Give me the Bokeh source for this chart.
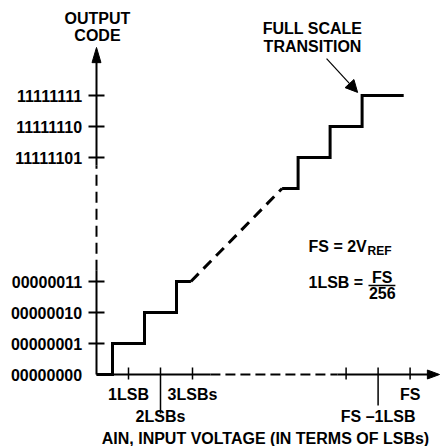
from bokeh.plotting import figure
from bokeh.models import Range1d, Arrow, NormalHead
from bokeh.core.properties import value
from bokeh.embed import file_html
from bokeh.resources import INLINE

# ---------------- data ----------------
FS_LSB = 256                # full scale in LSBs (8-bit converter)
FS_POS = 9.8                # display position of FS on the broken x axis
HIGH_CODE_SHIFT = 246       # display offset for codes above the y-axis break

# y axis codes and labels
y_codes = [0, 1, 2, 3, 253, 254, 255]
y_labels = ["00000000", "00000001", "00000010", "00000011",
            "11111101", "11111110", "11111111"]

# x axis ticks (in LSBs)
x_ticks_small = [1, 3, FS_LSB - 2, FS_LSB]
x_ticks_long = [2, FS_LSB - 1]
x_tick_labels = ["1LSB", "2LSBs", "3LSBs", "FS \u20131LSB", "FS"]
x_tick_label_pos = [1, 2, 3, FS_LSB - 1, FS_LSB]
x_tick_label_row = [0, 1, 0, 1, 0]

# ideal transfer function: low end steps and high end steps
low_x = [0, 0.5, 0.5, 1.5, 1.5, 2.5, 2.5, 2.95]
low_code = [0, 0, 1, 1, 2, 2, 3, 3]
high_x = [FS_LSB - 4, FS_LSB - 3.5, FS_LSB - 3.5, FS_LSB - 2.5, FS_LSB - 2.5,
          FS_LSB - 1.5, FS_LSB - 1.5, FS_LSB - 0.2]
high_code = [252, 252, 253, 253, 254, 254, 255, 255]


def dx(v):
    """display position of an input value (LSBs) on the broken x axis"""
    return v if v < 10 else v - FS_LSB + FS_POS


def dy(c):
    """display position of an output code on the broken y axis"""
    return c if c < 10 else c - HIGH_CODE_SHIFT


FONT = value("Liberation Sans")
FS_TXT = "16px"

p = figure(width=440, height=446, output_backend="svg", toolbar_location=None,
           x_range=Range1d(-3.0, 10.75), y_range=Range1d(-2.3226, 12.065),
           min_border=0, x_axis_type=None, y_axis_type=None)
p.grid.visible = False
p.outline_line_color = None
p.background_fill_color = "white"
p.border_fill_color = "white"

K = "black"

# ---- axes (drawn, with breaks) ----
# y axis
p.line([0, 0], [0, 3.35], line_color=K, line_width=2)
p.line([0, 0], [3.35, 6.74], line_color=K, line_width=2, line_dash="11 6")
p.line([0, 0], [6.74, 10.1], line_color=K, line_width=2)
p.patch([-0.14, 0, 0.14], [10.06, 10.55, 10.06], color=K)
# x axis
p.line([0, 3.56], [0, 0], line_color=K, line_width=2)
p.line([3.56, 7.53], [0, 0], line_color=K, line_width=2, line_dash="10 5")
p.line([7.53, 10.4], [0, 0], line_color=K, line_width=2)
p.patch([10.34, 10.72, 10.34], [0.145, 0, -0.145], color=K)

# y ticks and labels
for c, lab in zip(y_codes, y_labels):
    if c != 0:
        p.line([-0.25, 0.25], [dy(c), dy(c)], line_color=K, line_width=1.8)
p.text(x=[-0.45] * len(y_codes), y=[dy(c) for c in y_codes], text=y_labels,
       text_align="right", text_baseline="middle", text_font=FONT,
       text_font_style="bold", text_font_size=FS_TXT, text_color=K)

# x ticks
for v in x_ticks_small:
    p.line([dx(v), dx(v)], [0.226, -0.16], line_color=K, line_width=1.5)
for v, bottom in zip(x_ticks_long, [-1.26, -1.0]):
    p.line([dx(v), dx(v)], [0.226, bottom], line_color=K, line_width=1.5)
p.text(x=[dx(v) for v in x_tick_label_pos],
       y=[-0.66 if r == 0 else -1.35 for r in x_tick_label_row],
       text=x_tick_labels, text_align="center", text_baseline="middle",
       text_font=FONT, text_font_style="bold", text_font_size=FS_TXT,
       text_color=K)

# transfer function
p.line([dx(v) for v in low_x], [dy(c) for c in low_code],
       line_color=K, line_width=3, line_join="miter")
p.line([dx(low_x[-1]), dx(high_x[0])], [dy(low_code[-1]), dy(high_code[0])],
       line_color=K, line_width=3, line_dash="11 7")
p.line([dx(v) for v in high_x], [dy(c) for c in high_code],
       line_color=K, line_width=3, line_join="miter")

# axis titles
p.text(x=[0.03, 0.03], y=[11.48, 10.92], text=["OUTPUT", "CODE"],
       text_align="center", text_baseline="middle", text_font=FONT,
       text_font_style="bold", text_font_size=FS_TXT, text_color=K)
p.text(x=[5.28], y=[-2.06], text=["AIN, INPUT VOLTAGE (IN TERMS OF LSBs)"],
       text_align="center", text_baseline="middle", text_font=FONT,
       text_font_style="bold", text_font_size=FS_TXT, text_color=K)

# full scale transition annotation
p.text(x=[6.75, 6.75], y=[11.15, 10.58], text=["FULL SCALE", "TRANSITION"],
       text_align="center", text_baseline="middle", text_font=FONT,
       text_font_style="bold", text_font_size=FS_TXT, text_color=K)
p.add_layout(Arrow(end=NormalHead(size=12, fill_color=K, line_color=K),
                   x_start=7.19, y_start=10.19,
                   x_end=dx(FS_LSB - 1.5) - 0.14, y_end=dy(255) + 0.1,
                   line_color=K, line_width=1.2))

# formulas
p.text(x=[6.625], y=[4.13], text=["FS = 2V"], text_align="left",
       text_baseline="middle", text_font=FONT, text_font_style="bold",
       text_font_size=FS_TXT, text_color=K)
p.text(x=[8.47], y=[3.97], text=["REF"], text_align="left",
       text_baseline="middle", text_font=FONT, text_font_style="bold",
       text_font_size="12px", text_color=K)
p.text(x=[6.625], y=[2.98], text=["1LSB ="], text_align="left",
       text_baseline="middle", text_font=FONT, text_font_style="bold",
       text_font_size=FS_TXT, text_color=K)
p.text(x=[8.93, 8.93], y=[3.13, 2.63], text=["FS", "256"], text_align="center",
       text_baseline="middle", text_font=FONT, text_font_style="bold",
       text_font_size=FS_TXT, text_color=K)
p.line([8.5, 9.34], [2.87, 2.87], line_color=K, line_width=1.5)

open("out.html", "w").write(file_html(p, INLINE))
